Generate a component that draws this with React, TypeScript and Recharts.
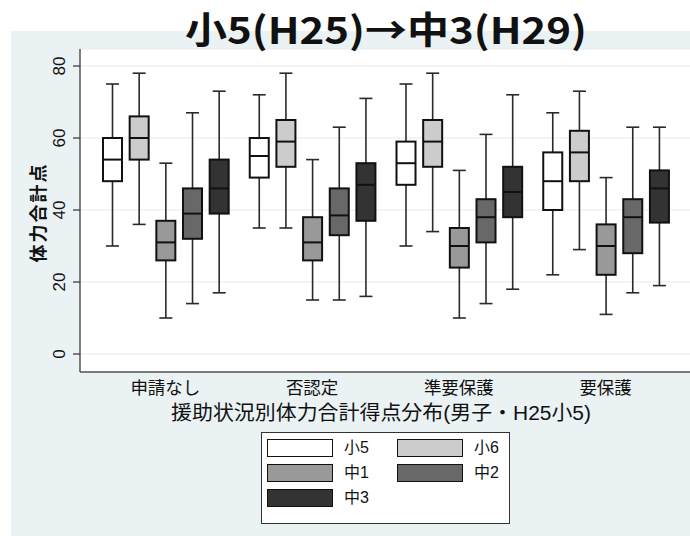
import React from 'react';
import { ComposedChart, Bar, XAxis, YAxis, CartesianGrid } from 'recharts';

// Categories (x axis) and series
const categories = ['申請なし', '否認定', '準要保護', '要保護'];
const seriesNames = ['小5', '小6', '中1', '中2', '中3'];
const seriesFills = ['#ffffff', '#cccccc', '#999999', '#686868', '#333333'];
const yTicks = [0, 20, 40, 60, 80];

// Each entry: [lower whisker, Q1, median, Q3, upper whisker] per category
const sho5 = [[30, 48, 54, 60, 75], [35, 49, 55, 60, 72], [30, 47, 53, 59, 75], [22, 40, 48, 56, 67]];
const sho6 = [[36, 54, 60, 66, 78], [35, 52, 59, 65, 78], [34, 52, 59, 65, 78], [29, 48, 56, 62, 73]];
const chu1 = [[10, 26, 31, 37, 53], [15, 26, 31, 38, 54], [10, 24, 30, 35, 51], [11, 22, 30, 36, 49]];
const chu2 = [[14, 32, 39, 46, 67], [15, 33, 38.5, 46, 63], [14, 31, 38, 43, 61], [17, 28, 38, 43, 63]];
const chu3 = [[17, 39, 46, 54, 73], [16, 37, 47, 53, 71], [18, 38, 45, 52, 72], [19, 36.5, 46, 51, 63]];

const seriesStats = [sho5, sho6, chu1, chu2, chu3];
const seriesKeys = ['s0', 's1', 's2', 's3', 's4'];

const rows = categories.map((cat, i) => {
  const r: any = { cat };
  seriesKeys.forEach((k, j) => {
    r[k] = seriesStats[j][i];
  });
  return r;
});

const FONT = '"Liberation Sans", "Noto Sans CJK JP", sans-serif';

const makeBoxShape = (key: string, fill: string) => (props: any) => {
  const { x, y, width, height, payload } = props;
  const st = payload[key];
  if (!st) return null;
  const [mn, q1, md, q3, mx] = st;
  const k = height / (mx - mn);
  const Y = (v: number) => y + (mx - v) * k;
  const cx = x + width / 2;
  const cap = 6.5;
  return (
    <g>
      <line x1={cx} x2={cx} y1={Y(mx)} y2={Y(q3)} stroke="#2a2a2a" strokeWidth={1.6} />
      <line x1={cx} x2={cx} y1={Y(q1)} y2={Y(mn)} stroke="#2a2a2a" strokeWidth={1.6} />
      <line x1={cx - cap} x2={cx + cap} y1={Y(mx)} y2={Y(mx)} stroke="#2a2a2a" strokeWidth={1.6} />
      <line x1={cx - cap} x2={cx + cap} y1={Y(mn)} y2={Y(mn)} stroke="#2a2a2a" strokeWidth={1.6} />
      <rect x={x} y={Y(q3)} width={width} height={Y(q1) - Y(q3)} fill={fill} stroke="#111" strokeWidth={2} />
      <line x1={x} x2={x + width} y1={Y(md)} y2={Y(md)} stroke="#111" strokeWidth={2} />
    </g>
  );
};

const YTick = (p: any) => {
  const tx = p.x - 6;
  return (
    <text
      x={tx}
      y={p.y}
      transform={`rotate(-90 ${tx} ${p.y})`}
      textAnchor="middle"
      fontSize={17}
      fontFamily={FONT}
      fill="#111"
    >
      {p.payload.value}
    </text>
  );
};

const XTick = (p: any) => (
  <text x={p.x} y={p.y} dy="0.82em" textAnchor="middle" fontSize={17.5} fontFamily={FONT} fill="#111">
    {p.payload.value}
  </text>
);

const XTitle = (p: any) => {
  const vb = p.viewBox || { x: 80, y: 372, width: 610, height: 54 };
  return (
    <text
      x={vb.x + 301}
      y={vb.y + 48}
      textAnchor="middle"
      fontSize={20}
      fontFamily={FONT}
      fill="#111"
      textLength={420}
      lengthAdjust="spacingAndGlyphs"
    >
      援助状況別体力合計得点分布(男子・H25小5)
    </text>
  );
};

const YTitle = (p: any) => {
  const vb = p.viewBox || { x: 0, y: 49, width: 80, height: 323 };
  const cx = 45;
  const cy = vb.y + vb.height / 2 + 2;
  return (
    <text
      x={cx}
      y={cy}
      transform={`rotate(-90 ${cx} ${cy})`}
      textAnchor="middle"
      fontSize={18}
      fontWeight="bold"
      letterSpacing={2}
      fontFamily={FONT}
      fill="#111"
    >
      体力合計点
    </text>
  );
};

const legendPos = [
  { left: 267, top: 439 },
  { left: 397, top: 439 },
  { left: 267, top: 464 },
  { left: 397, top: 464 },
  { left: 267, top: 489 },
];

export default function App() {
  return (
    <div style={{ position: 'absolute', left: 0, top: 0, width: 690, height: 536, background: '#fff', overflow: 'hidden', fontFamily: FONT }}>
      <div style={{ position: 'absolute', left: 11, top: 31, width: 679, height: 505, background: '#eaf2f3' }} />
      <div style={{ position: 'absolute', left: 0, top: 0 }}>
        <ComposedChart
          width={690}
          height={536}
          data={rows}
          margin={{ top: 49, right: 0, bottom: 110, left: 0 }}
          barSize={19}
          barGap={7.67}
        >
          <CartesianGrid vertical={false} stroke="#e3ecf0" fill="#ffffff" />
          <XAxis
            dataKey="cat"
            type="category"
            height={54}
            padding={{ left: 12, right: 11 }}
            axisLine={{ stroke: '#555', strokeWidth: 1.5 }}
            tickLine={false}
            tick={<XTick />}
            interval={0}
            label={<XTitle />}
          />
          <YAxis
            type="number"
            width={80}
            domain={[-5, 84.72]}
            ticks={yTicks}
            allowDataOverflow
            axisLine={{ stroke: '#555', strokeWidth: 1.5 }}
            tickLine={{ stroke: '#333', strokeWidth: 1.2 }}
            tickSize={7}
            tick={<YTick />}
            label={<YTitle />}
          />
          {seriesKeys.map((k, j) => (
            <Bar
              key={k}
              name={seriesNames[j]}
              dataKey={(r: any) => [r[k][0], r[k][4]]}
              fill={seriesFills[j]}
              isAnimationActive={false}
              shape={makeBoxShape(k, seriesFills[j])}
            />
          ))}
        </ComposedChart>
      </div>
      <svg style={{ position: 'absolute', left: 0, top: 0 }} width={690} height={64}>
        <text
          x={386}
          y={44}
          textAnchor="middle"
          fontSize={37}
          fontWeight="bold"
          fontFamily={'"Noto Sans CJK JP", sans-serif'}
          textLength={402}
          lengthAdjust="spacingAndGlyphs"
          fill="#111"
        >
          小5(H25)→中3(H29)
        </text>
      </svg>
      <div
        style={{
          position: 'absolute',
          left: 261,
          top: 432,
          width: 249,
          height: 92,
          boxSizing: 'border-box',
          border: '1px solid #333',
          background: '#fff',
        }}
      />
      {seriesNames.map((n, j) => (
        <div key={n} style={{ position: 'absolute', left: legendPos[j].left, top: legendPos[j].top, height: 18, display: 'flex', alignItems: 'center' }}>
          <div style={{ width: 66, height: 18, boxSizing: 'border-box', border: '1.5px solid #111', background: seriesFills[j] }} />
          <span style={{ marginLeft: 11, fontSize: 16, color: '#111', lineHeight: '18px' }}>{n}</span>
        </div>
      ))}
    </div>
  );
}
